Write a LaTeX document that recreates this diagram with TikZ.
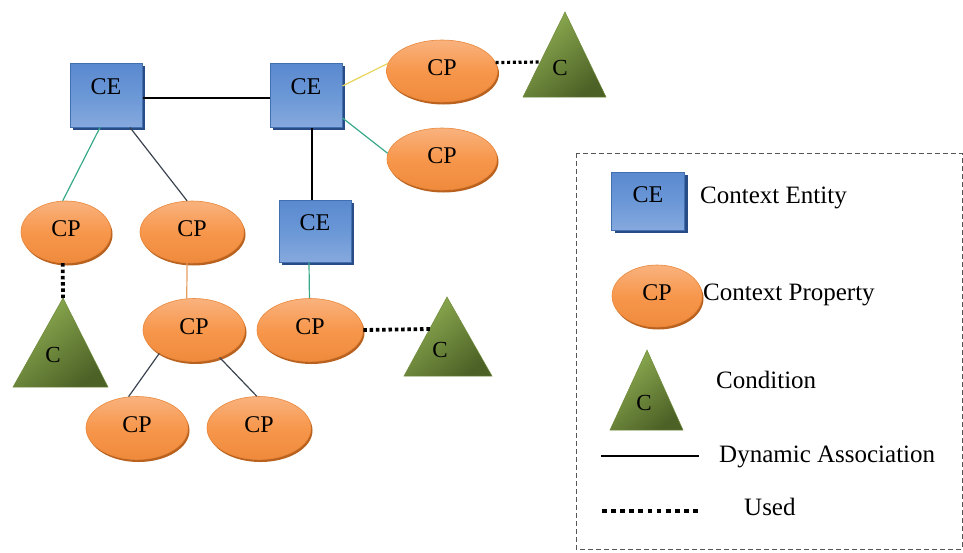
\documentclass[tikz,border=0pt]{standalone}
\usepackage{fontspec}
\setmainfont{Liberation Serif}
\usetikzlibrary{shapes.geometric,shadows,calc}

\definecolor{ceTop}{HTML}{5A89CF}
\definecolor{ceMid}{HTML}{6A97D6}
\definecolor{ceBot}{HTML}{86A9DE}
\definecolor{ceEdge}{HTML}{416FB0}
\definecolor{ceShadow}{HTML}{274C86}
\definecolor{cpTop}{HTML}{F9B27E}
\definecolor{cpMid}{HTML}{F7974C}
\definecolor{cpBot}{HTML}{EF8A3C}
\definecolor{cpEdge}{HTML}{E9873A}
\definecolor{cpShadow}{HTML}{B9621F}
\definecolor{cdLight}{HTML}{8FAE52}
\definecolor{cdDark}{HTML}{4C6126}
\definecolor{cdEdge}{HTML}{6E8A3A}
\definecolor{linkTeal}{HTML}{38A98A}
\definecolor{linkDark}{HTML}{3C4350}
\definecolor{linkYellow}{HTML}{E6D45A}
\definecolor{linkOrange}{HTML}{E59B5E}
\definecolor{frameGray}{HTML}{555555}

\begin{document}
\begin{tikzpicture}[x=1pt,y=-1pt,
  entity/.style={rectangle, draw=ceEdge, line width=1pt,
    top color=ceTop, bottom color=ceBot, middle color=ceMid,
    minimum width=72pt, minimum height=64pt, inner sep=0pt,
    font=\fontsize{24}{24}\selectfont, text depth=16pt,
    drop shadow={shadow xshift=3pt, shadow yshift=-3pt, fill=ceShadow, opacity=1}},
  prop/.style={ellipse, draw=cpEdge, line width=.6pt,
    top color=cpTop, bottom color=cpBot, middle color=cpMid,
    inner sep=0pt, font=\fontsize{24}{24}\selectfont, text depth=6pt,
    drop shadow={shadow xshift=1.5pt, shadow yshift=-2.5pt, fill=cpShadow, opacity=1}},
  cond/.style={draw=cdEdge, line width=.5pt, top color=cdLight, bottom color=cdDark, shading angle=40},
  condtext/.style={font=\fontsize{23}{23}\selectfont, inner sep=0pt},
  assoc/.style={line width=1.2pt},
  used/.style={line width=3.8pt, dash pattern=on 3.5pt off 2.8pt},
  legtext/.style={font=\fontsize{25}{25}\selectfont, anchor=base west, inner sep=0pt},
]
\useasboundingbox (0,0) rectangle (963,552);

% ---- context entities
\node[entity] (ce1) at (106,95) {CE};
\node[entity] (ce2) at (306,95) {CE};
\node[entity, minimum height=62pt] (ce3) at (315,231) {CE};

% ---- context properties
\node[prop, minimum width=90pt, minimum height=62pt] (cp1) at (66,232) {CP};
\node[prop, minimum width=104pt, minimum height=62pt] (cp2) at (192,232) {CP};
\node[prop, minimum width=111pt, minimum height=62pt] (cpa) at (442,71) {CP};
\node[prop, minimum width=110pt, minimum height=62pt] (cpb) at (442,159) {CP};
\node[prop, minimum width=102pt, minimum height=63pt] (cp3) at (194,330) {CP};
\node[prop, minimum width=106pt, minimum height=63pt] (cp4) at (310,330) {CP};
\node[prop, minimum width=102pt, minimum height=63pt] (cp5) at (137,428) {CP};
\node[prop, minimum width=104pt, minimum height=63pt] (cp6) at (259,428) {CP};

% ---- conditions
\path[cond] (565,12) -- (606,97) -- (523,97) -- cycle;
\node[condtext] (c1) at (560,68) {C};
\coordinate (c1in) at (541,62);

\path[cond] (63,298) -- (108,387) -- (13,387) -- cycle;
\node[condtext] (c2) at (53,355) {C};
\coordinate (c2in) at (63,298);

\path[cond] (447,297) -- (492,376) -- (404,376) -- cycle;
\node[condtext] (c3) at (440,350) {C};
\coordinate (c3in) at (430,329);

% ---- dynamic associations
\draw[assoc, black] ([yshift=-3pt]ce1.east) -- ([yshift=-3pt]ce2.west);
\draw[assoc, black] ([xshift=6pt]ce2.south) -- ([xshift=-3pt]ce3.north);
\draw[assoc, linkTeal] ([xshift=-6pt]ce1.south) -- (cp1.96);
\draw[assoc, linkDark] ([xshift=24pt]ce1.south) -- (cp2.99);
\draw[assoc, linkYellow] ([yshift=9pt]ce2.east) -- (cpa.172);
\draw[assoc, linkTeal] ([yshift=-23pt]ce2.east) -- (cpb.174);
\draw[assoc, linkTeal] ([xshift=-6pt]ce3.south) -- (cp4.91);
\draw[assoc, linkOrange] (cp2.-99) -- (cp3.103);
\draw[assoc, linkDark] (cp3.-146) -- (cp5.105);
\draw[assoc, linkDark] (cp3.-47) -- (cp6.94);

% ---- used
\draw[used, line width=3.2pt, dash pattern=on 3pt off 2.7pt] (cpa.9) -- (c1in);
\draw[used] (cp1.-96) -- (c2in);
\draw[used] (cp4.east) -- (c3in);

% ---- legend
\draw[frameGray, line width=1pt, dash pattern=on 5pt off 3pt] (576,153) rectangle (962,549);
\node[entity, minimum width=73pt, minimum height=58pt, text depth=12pt] (lce) at (648,201) {CE};
\node[legtext] (lcet) at (700,203) {Context Entity};
\node[prop, minimum width=90pt, minimum height=62pt] (lcp) at (657,296) {CP};
\node[legtext] (lcpt) at (703,300) {Context Property};
\path[cond] (647,350) -- (683,430) -- (610,430) -- cycle;
\node[condtext] (lc) at (644,403) {C};
\node[legtext] (lct) at (716,388) {Condition};
\coordinate (la1) at (601,456);
\coordinate (la2) at (699,456);
\draw[line width=1.2pt, black] (la1) -- (la2);
\node[legtext] (lat) at (719,462) {Dynamic Association};
\coordinate (lu1) at (602,511);
\coordinate (lu2) at (700,511);
\draw[used, line width=4.8pt, dash pattern=on 4.8pt off 4.3pt] (lu1) -- (lu2);
\node[legtext] (lut) at (744,515) {Used};
\end{tikzpicture}
\end{document}
